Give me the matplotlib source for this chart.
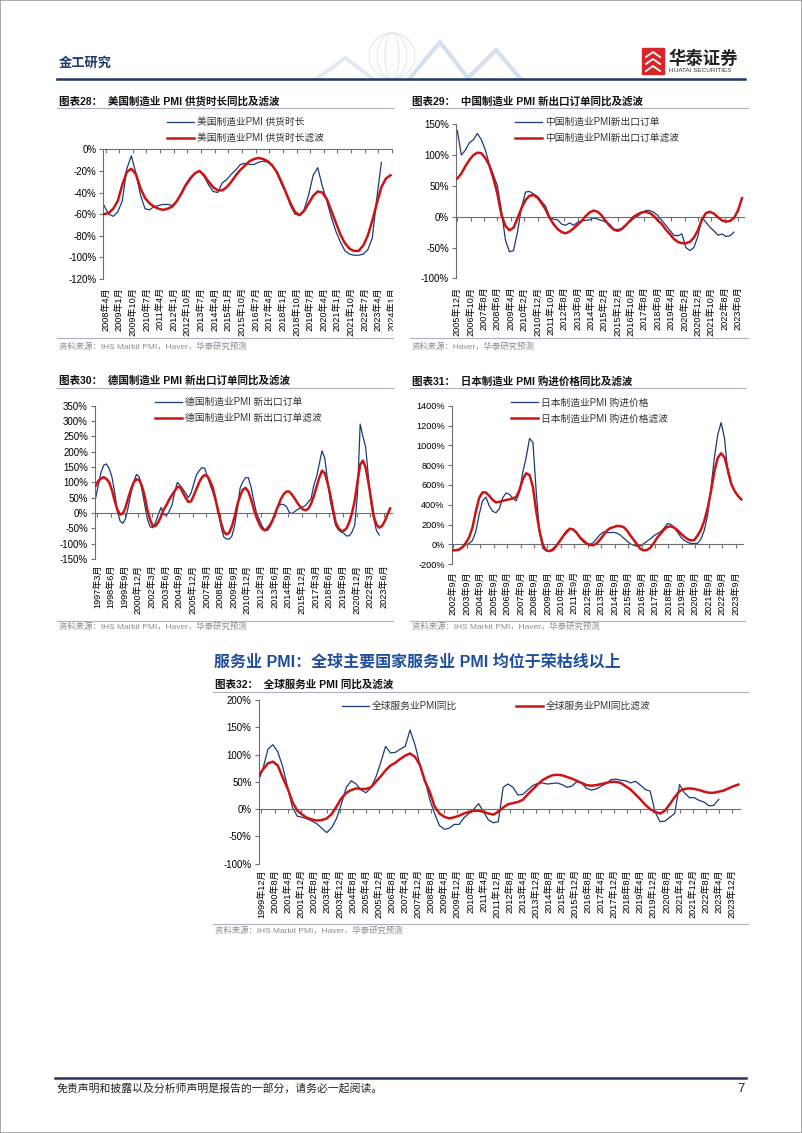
import numpy as np
import matplotlib.pyplot as plt
from matplotlib.lines import Line2D
from matplotlib.patches import Rectangle, Ellipse
from matplotlib.transforms import Bbox

plt.rcParams['font.family'] = ['Liberation Sans', 'Noto Sans CJK SC']
plt.rcParams['axes.unicode_minus'] = False

# ---- data: quarterly readings (every 3 months from the start month) ----
us_start = (2008, 3)
us_raw = [-52, -60, -62, -58, -48, -18, -6, -22, -42, -55, -56, -53, -52, -51, -51, -52,
          -48, -40, -32, -26, -22, -20, -25, -33, -39, -40, -31, -28, -23, -19, -14, -13,
          -14, -14, -12, -11, -12, -15, -22, -32, -40, -52, -60, -61, -56, -42, -24, -17,
          -34, -48, -63, -76, -86, -94, -97, -98, -98, -97, -93, -82, -45, -12]
us_filt = [-60, -59, -55, -48, -33, -21, -18, -23, -36, -45, -50, -53, -55, -56, -55, -53,
           -48, -41, -33, -27, -22, -20, -24, -30, -35, -38, -38, -35, -30, -24, -19, -15,
           -11, -9, -8, -9, -11, -15, -21, -30, -40, -50, -58, -61, -57, -50, -43, -39,
           -40, -46, -57, -68, -79, -87, -92, -94, -94, -89, -80, -66, -50, -35, -27, -24]

cn_start = (2005, 12)
cn_raw = [140, 100, 108, 120, 125, 135, 125, 108, 85, 68, 50, 10, -38, -57, -55, -25,
          15, 40, 41, 37, 33, 25, 17, 0, -4, -5, -12, -14, -10, -14, -9, -7,
          -6, -5, -2, -4, -6, -9, -12, -20, -21, -19, -13, -8, -3, 1, 6, 10,
          10, 7, 2, -6, -14, -22, -30, -31, -28, -50, -55, -50, -32, -1, -9, -17,
          -23, -30, -28, -32, -31, -25]
cn_filt = [62, 70, 82, 92, 100, 104, 103, 95, 83, 62, 37, 3, -15, -22, -18, -3,
           14, 27, 34, 35, 31, 22, 12, -2, -12, -20, -25, -27, -24, -19, -13, -7,
           1, 7, 10, 8, 2, -7, -15, -21, -23, -20, -14, -7, 0, 4, 7, 8,
           6, 1, -6, -12, -21, -28, -36, -41, -43, -43, -41, -34, -22, -5, 6, 8,
           5, -1, -6, -8, -7, -2, 10, 30]

de_start = (1997, 1)
de_raw = [48, 90, 132, 156, 160, 145, 118, 68, 5, -26, -34, -18, 20, 65, 102, 126,
          118, 76, 28, -20, -45, -48, -30, -5, 18, -5, -8, 6, 25, 68, 100, 90,
          78, 65, 50, 65, 95, 125, 138, 148, 146, 120, 92, 68, 38, 10, -45, -78,
          -85, -85, -75, -40, 15, 82, 102, 115, 115, 85, 40, 0, -20, -42, -56, -57,
          -45, -25, 5, 22, 29, 27, 21, 2, -2, 5, 11, 16, 20, 25, 36, 47,
          90, 118, 160, 203, 180, 110, 42, 0, -40, -55, -62, -66, -75, -74, -62, -40,
          60, 290, 250, 215, 120, 30, -20, -58, -72]
de_filt = [88, 105, 112, 117, 111, 100, 75, 40, 11, -5, -2, 18, 50, 77, 100, 110,
           108, 88, 55, 10, -22, -43, -42, -30, -11, 12, 26, 44, 58, 72, 85, 84,
           67, 50, 36, 38, 57, 79, 100, 116, 124, 120, 104, 82, 44, 3, -32, -61,
           -70, -64, -43, -11, 28, 56, 76, 82, 70, 45, 13, -14, -36, -51, -57, -50,
           -38, -21, 2, 25, 47, 62, 70, 70, 60, 47, 33, 21, 12, 9, 14, 30,
           55, 85, 115, 138, 130, 100, 62, 14, -30, -49, -58, -58, -50, -30, 0, 40,
           100, 158, 171, 148, 100, 45, -12, -38, -48, -42, -27, -5, 15]

jp_start = (2002, 8)
jp_raw = [-60, -57, -48, -22, -5, 10, 40, 130, 300, 440, 478, 390, 335, 320, 360, 470,
          520, 505, 470, 440, 530, 730, 880, 1070, 1030, 520, 110, -40, -65, -65, -40, -5,
          35, 80, 115, 160, 155, 115, 65, 25, 5, 0, 20, 60, 100, 128, 120, 120,
          122, 115, 95, 65, 35, 5, -8, -18, -12, 8, 35, 58, 88, 110, 128, 165,
          210, 205, 172, 125, 75, 42, 22, 10, 10, 12, 55, 145, 300, 580, 880, 1110,
          1230, 1070, 720, 620]
jp_filt = [-60, -58, -52, -30, 15, 70, 170, 330, 470, 525, 525, 492, 450, 425, 430, 440,
           448, 456, 465, 478, 550, 660, 718, 700, 580, 330, 130, -10, -60, -68, -52, -12,
           35, 85, 130, 160, 150, 118, 70, 40, 10, -5, -8, 12, 50, 95, 140, 165,
           175, 188, 185, 175, 140, 90, 45, 0, -45, -60, -55, -30, 15, 70, 110, 150,
           178, 182, 170, 145, 110, 80, 55, 40, 45, 90, 150, 240, 370, 540, 740, 875,
           920, 880, 750, 610, 540, 490, 455]

gl_start = (1999, 10)
gl_raw = [50, 75, 110, 118, 105, 78, 40, 3, -13, -15, -18, -22, -27, -35, -43, -34,
          -17, 10, 40, 52, 46, 35, 30, 39, 58, 85, 115, 103, 104, 110, 115, 145,
          118, 82, 55, 18, -8, -30, -37, -35, -28, -28, -16, -8, 0, 10, -5, -20,
          -25, -23, 40, 46, 40, 26, 27, 35, 43, 47, 48, 46, 47, 48, 45, 40,
          42, 50, 48, 38, 35, 37, 42, 47, 54, 55, 53, 52, 48, 51, 44, 36,
          33, -5, -23, -22, -15, -8, 45, 30, 21, 21, 16, 13, 6, 7, 18]
gl_filt = [60, 73, 84, 87, 80, 58, 38, 13, -3, -10, -16, -19, -21, -20, -17, -9,
           5, 20, 30, 35, 38, 37, 37, 40, 50, 60, 71, 80, 85, 92, 98, 102,
           96, 81, 52, 32, 5, -8, -14, -17, -15, -12, -8, -5, -3, -3, -5, -8,
           -10, -5, 3, 9, 11, 13, 17, 27, 36, 45, 53, 58, 62, 63, 62, 59,
           56, 52, 48, 44, 43, 44, 46, 48, 50, 50, 48, 42, 36, 27, 18, 8,
           0, -5, -8, -3, 9, 22, 33, 37, 38, 37, 35, 32, 30, 30, 32, 34,
           38, 42, 45]

W, H = 802, 1133
fig = plt.figure(figsize=(W / 100, H / 100), dpi=100)

BLUE = '#1B3A7A'
RED = '#CC1414'
AXIS = '#6E6E6E'
GRAYLINE = '#A9B0BE'
SRC = '#8C8C8C'


def fx(x):
    return x / W


def fy(y):
    return 1 - y / H


def mi(y, m):
    return y * 12 + m - 1


def hline(x0, x1, y, color=GRAYLINE, lw=0.8):
    fig.add_artist(Line2D([fx(x0), fx(x1)], [fy(y), fy(y)], color=color, lw=lw))


def chart(box, start, raw, filt, ylim, ystep, tick0, tick_step, tick_n, xlim_m,
          labels, leg_xy, ylab_size=7, pad=5, ncol=1, colsp=2.0, clip_right=None):
    l, t, r, b = box
    ax = fig.add_axes([fx(l), fy(b), (r - l) / W, (b - t) / H])
    x0 = mi(*start)
    ax.plot(x0 + 3 * np.arange(len(raw)), raw, color=BLUE, lw=0.9, zorder=2)
    ax.plot(x0 + 3 * np.arange(len(filt)), filt, color=RED, lw=1.8, zorder=3)
    t0 = mi(*tick0)
    ax.set_xlim(t0 + xlim_m[0], t0 + xlim_m[1])
    ax.set_ylim(*ylim)
    ticks = t0 + tick_step * np.arange(tick_n)
    tlabels = [f"{v // 12}年{v % 12 + 1}月" for v in ticks]
    yt = np.arange(ylim[0], ylim[1] + 1, ystep)
    ax.set_yticks(yt)
    ax.set_yticklabels([f"{v}%" for v in yt])
    for s in ('top', 'right'):
        ax.spines[s].set_visible(False)
    ax.spines['bottom'].set_position(('data', 0))
    ax.spines['bottom'].set_color(AXIS)
    ax.spines['left'].set_color(AXIS)
    ax.spines['bottom'].set_linewidth(0.8)
    ax.spines['left'].set_linewidth(0.8)
    ax.set_xticks(ticks)
    ax.tick_params(axis='x', labelbottom=False, length=3, direction='out', color=AXIS, width=0.8)
    ax.tick_params(axis='y', length=3, direction='out', color=AXIS, width=0.8,
                   labelsize=ylab_size, pad=2)
    sec = ax.secondary_xaxis('bottom')
    sec.set_xticks(ticks)
    sec.set_xticklabels(tlabels, rotation=90, fontsize=6.6)
    sec.tick_params(length=0, pad=pad)
    sec.spines['bottom'].set_visible(False)
    if clip_right is not None:
        clip = Bbox([[0, 0], [clip_right, H]])
        for lab in sec.get_xticklabels():
            lab.set_clip_box(clip)
            lab.set_clip_on(True)
    handles = [Line2D([], [], color=BLUE, lw=0.9), Line2D([], [], color=RED, lw=1.8)]
    leg = ax.legend(handles, labels, loc='center left',
                    bbox_to_anchor=(fx(leg_xy[0]), fy(leg_xy[1])),
                    bbox_transform=fig.transFigure, frameon=False, fontsize=7,
                    handlelength=2.8, handletextpad=0.3, labelspacing=0.6,
                    borderpad=0, borderaxespad=0, ncol=ncol, columnspacing=colsp)
    for txt in leg.get_texts():
        txt.set_color('#333333')
    return ax


def titled(x0, x1, y_title, y_line, text):
    fig.text(fx(x0 + 2), fy(y_title), text, fontsize=7.6, fontweight='bold',
             va='center', ha='left', color='#111111')
    hline(x0, x1, y_line)


def source(x0, x1, y_line, y_text, text):
    hline(x0, x1, y_line)
    fig.text(fx(x0 + 2), fy(y_text), text, fontsize=6, va='center', ha='left', color=SRC)


# ---- page header ----
fig.add_artist(Rectangle((0, 0), 1, 1, transform=fig.transFigure, fill=False,
                         edgecolor='#9A9A9A', lw=1.2))
fig.text(fx(59), fy(64), "金工研究", fontsize=9.5, fontweight='bold', color='#1F3A6E',
         va='center', ha='left')
# faint globe ornament
for wdt in (46, 30, 14):
    fig.add_artist(Ellipse((fx(392), fy(56)), wdt / W, 46 / H, transform=fig.transFigure,
                           fill=False, edgecolor='#DDE3EB', lw=0.7))
fig.add_artist(Line2D([fx(v) for v in (318, 345, 372)], [fy(v) for v in (78, 58, 78)],
                      color='#E4E9F1', lw=3))
fig.add_artist(Line2D([fx(v) for v in (410, 440, 468, 496, 520)],
                      [fy(v) for v in (78, 42, 78, 50, 78)], color='#D5E0EF', lw=3))
# logo
fig.add_artist(Rectangle((fx(642), fy(74)), 22 / W, 26 / H, transform=fig.transFigure,
                         color='#D7262A'))
for yy in (54, 61, 68):
    fig.add_artist(Line2D([fx(646), fx(653), fx(660)], [fy(yy + 3), fy(yy - 2), fy(yy + 3)],
                          color='white', lw=1.3))
fig.text(fx(668), fy(58), "华泰证券", fontsize=12.5, fontweight='bold', color='#222222',
         va='center', ha='left')
fig.text(fx(669), fy(71), "HUATAI SECURITIES", fontsize=4.6, color='#333333',
         va='center', ha='left')
hline(57, 745, 79, color='#1F3864', lw=1.8)

# ---- chart 28 ----
titled(57, 393, 101, 107.5, "图表28：  美国制造业 PMI 供货时长同比及滤波")
chart((103.3, 149.3, 392, 279), us_start, us_raw, us_filt, (-120, 0), 20,
      (2008, 4), 9, 22, (-1.5, 189), ["美国制造业PMI 供货时长", "美国制造业PMI 供货时长滤波"],
      (167, 130), pad=6, clip_right=393)
source(57, 393, 338, 347, "资料来源：IHS Markit PMI，Haver，华泰研究预测")

# ---- chart 29 ----
titled(410, 748, 101, 107.5, "图表29：  中国制造业 PMI 新出口订单同比及滤波")
chart((456, 124.3, 744, 278.3), cn_start, cn_raw, cn_filt, (-100, 150), 50,
      (2005, 12), 10, 22, (-1, 214.5), ["中国制造业PMI新出口订单", "中国制造业PMI新出口订单滤波"],
      (515, 130), pad=6)
source(410, 748, 338, 347, "资料来源：Haver，华泰研究预测")

# ---- chart 30 ----
titled(57, 393, 380, 388, "图表30：  德国制造业 PMI 新出口订单同比及滤波")
chart((95, 405.7, 392, 559), de_start, de_raw, de_filt, (-150, 350), 50,
      (1997, 3), 15, 22, (-2.6, 324), ["德国制造业PMI 新出口订单", "德国制造业PMI 新出口订单滤波"],
      (155, 410), pad=4)
source(57, 393, 621, 627, "资料来源：IHS Markit PMI，Haver，华泰研究预测")

# ---- chart 31 ----
titled(410, 745, 381, 388, "图表31：  日本制造业 PMI 购进价格同比及滤波")
chart((451.7, 405.7, 743, 564.3), jp_start, jp_raw, jp_filt, (-200, 1400), 200,
      (2002, 9), 12, 22, (-1.5, 258.5), ["日本制造业PMI 购进价格", "日本制造业PMI 购进价格滤波"],
      (511, 410.7), ylab_size=6.6, pad=5)
source(410, 745, 621, 627, "资料来源：IHS Markit PMI，Haver，华泰研究预测")

# ---- chart 32 ----
fig.text(fx(214), fy(662), "服务业 PMI：全球主要国家服务业 PMI 均位于荣枯线以上",
         fontsize=11.5, fontweight='bold', color='#1F4E9A', va='center', ha='left')
titled(213, 748, 685, 692.3, "图表32：  全球服务业 PMI 同比及滤波")
chart((258.5, 700, 740, 863.7), gl_start, gl_raw, gl_filt, (-100, 200), 50,
      (1999, 12), 8, 37, (-1.8, 293), ["全球服务业PMI同比", "全球服务业PMI同比滤波"],
      (342, 706), pad=4, ncol=2, colsp=6.0)
source(213, 748, 923.5, 931, "资料来源：IHS Markit PMI，Haver，华泰研究预测")

# ---- footer ----
hline(55, 746, 1077.7, color='#1F3864', lw=1.8)
fig.text(fx(57), fy(1089), "免责声明和披露以及分析师声明是报告的一部分，请务必一起阅读。",
         fontsize=7.8, fontstyle='italic', color='#222222', va='center', ha='left')
fig.text(fx(745), fy(1089), "7", fontsize=9.5, color='#222222', va='center', ha='right')

fig.savefig("out.png", dpi=100)
